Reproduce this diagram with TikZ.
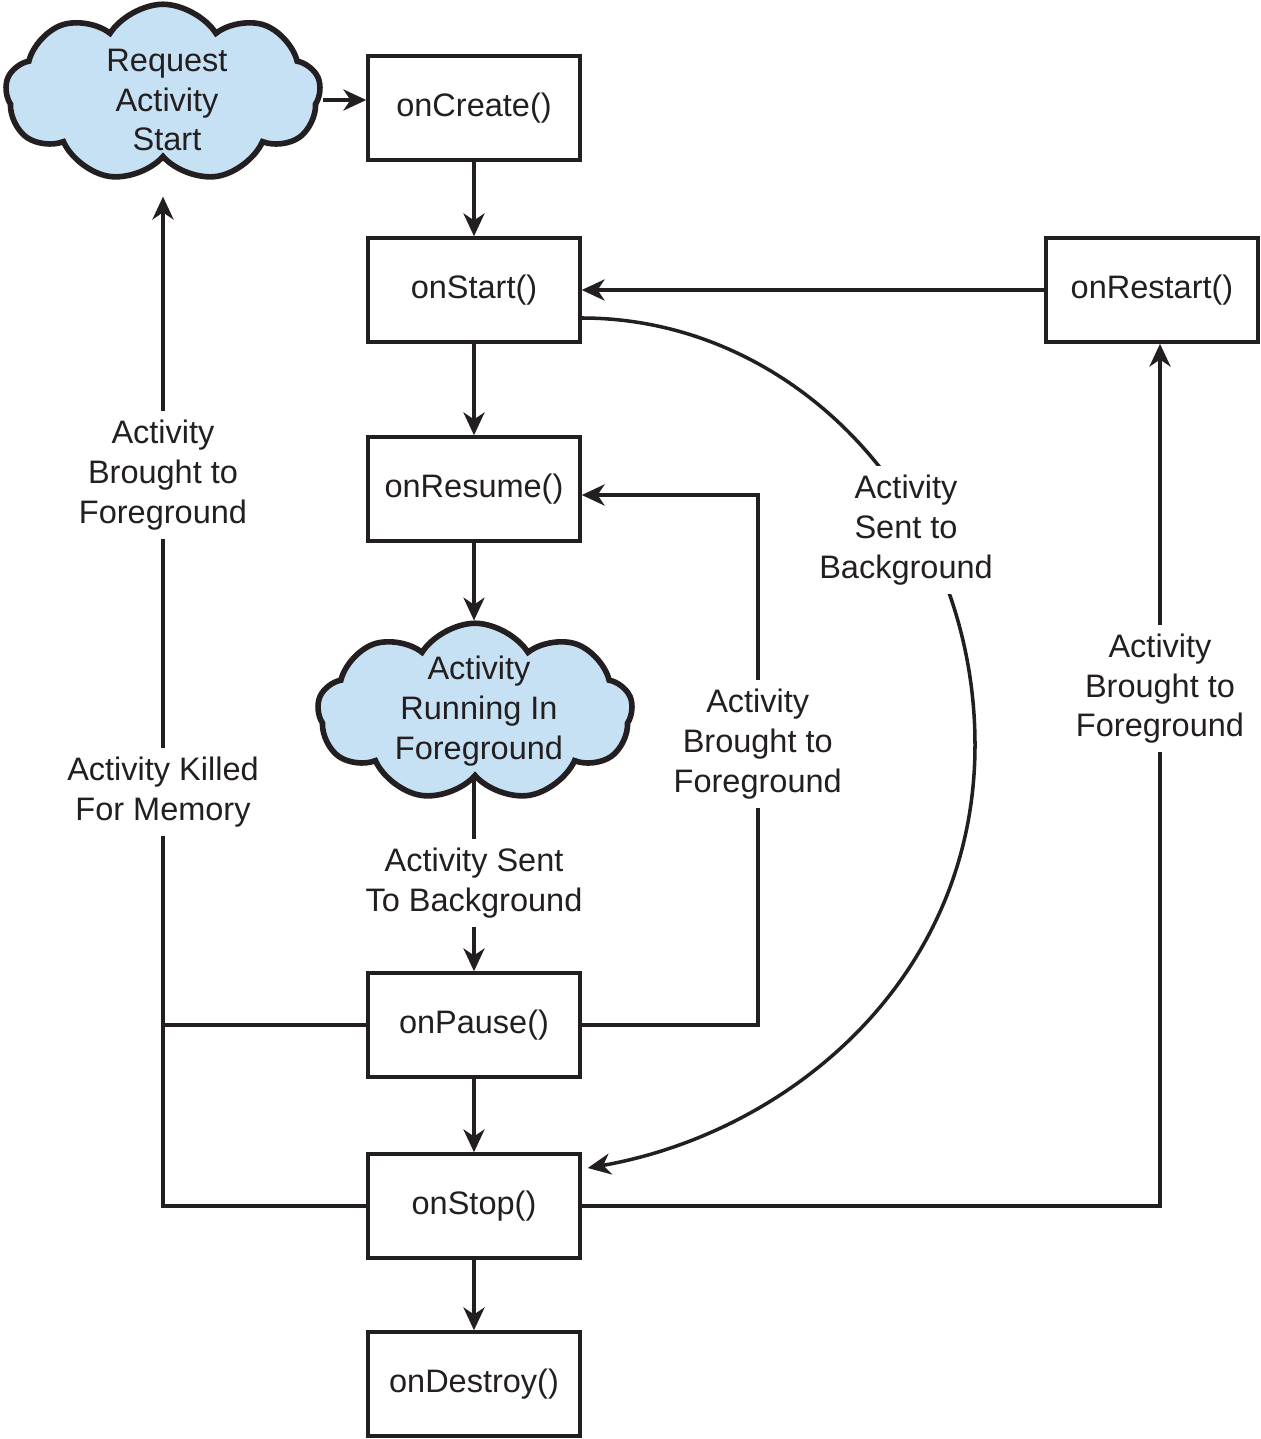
\documentclass[tikz,border=0pt]{standalone}
\usepackage{fontspec}
\setmainfont{Liberation Sans}
\usetikzlibrary{shapes.symbols,arrows.meta,positioning}

\definecolor{ink}{HTML}{231F20}
\definecolor{cloudblue}{HTML}{C6E0F4}

\begin{document}
\begin{tikzpicture}[x=0.02cm,y=-0.02cm,
  every node/.style={font=\fontsize{18.5}{22.7}\selectfont,text=ink},
  box/.style={draw=ink,line width=2pt,minimum width=4.24cm,minimum height=2.08cm},
  cloudbox/.style={cloud,cloud puffs=9,cloud puff arc=115,cloud ignores aspect,draw=ink,line width=3.2pt,fill=cloudblue,minimum width=6.3cm,minimum height=3.55cm},
  lbl/.style={fill=white,align=center,inner sep=5pt},
  line/.style={draw=ink,line width=2pt},
  >={Stealth[length=13pt,width=12pt,inset=4pt]}]

\useasboundingbox (0,0) rectangle (1260,1439);

\foreach \name/\txt/\y in {create/onCreate()/108,start/onStart()/290,resume/onResume()/489,pause/onPause()/1025,stop/onStop()/1206,destroy/onDestroy()/1384}
  \node[box] (\name) at (474,\y) {\txt};
\node[box] (restart) at (1152,290) {onRestart()};

\node[cloudbox] (req) at (163,93) {};
\node[align=center] (reqtxt) at (167,100) {Request\\Activity\\Start};
\node[cloudbox] (run) at (475,712) {};
\node[align=center] (runtxt) at (479,711) {Activity\\Running In\\Foreground};

% main column
\draw[line,->] (req.east |- reqtxt) -- (create.west |- reqtxt);
\draw[line,->] (create) -- (start);
\draw[line,->] (start) -- (resume);
\draw[line,->] (resume.south) -- (resume.south |- run.north);
\draw[line,->] (run.south -| pause) -- node[lbl,pos=0.54] {Activity Sent\\To Background} (pause);
\draw[line,->] (pause) -- (stop);
\draw[line,->] (stop) -- (destroy);

% back loops
\draw[line,->] (restart) -- (start);
\draw[line,->] (stop.east) -| node[lbl,pos=0.8] {Activity\\Brought to\\Foreground} ([xshift=0.16cm]restart.south);
\draw[line,->] (pause.east) -- ++(176,0) |- node[lbl,pos=0.265] {Activity\\Brought to\\Foreground} ([yshift=-0.12cm]resume.east);
\draw[line,->] (stop.west) -| node[lbl,pos=0.705] {Activity Killed\\For Memory}
  node[lbl,pos=0.862] {Activity\\Brought to\\Foreground} ([yshift=-0.72cm]req.south);
\draw[line] (pause.west) -- (pause.west -| req.south);

% sent to background
\draw[line,->] ([yshift=-0.56cm]start.east) .. controls +(216,0) and +(0,-235) .. (975,745)
  .. controls +(0,235) and +(200,-35) .. ([shift={(0.12cm,0.76cm)}]stop.east);
\node[lbl] (sentbg) at (906,530) {Activity\\Sent to\\Background};
\end{tikzpicture}
\end{document}
